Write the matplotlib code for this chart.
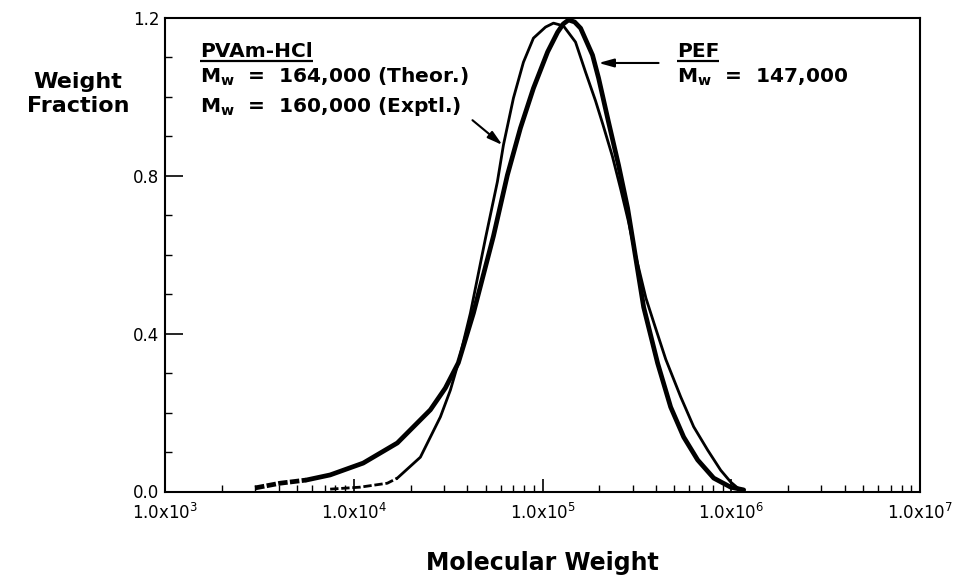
import matplotlib
matplotlib.use("Agg")
import matplotlib.pyplot as plt
from matplotlib.ticker import LogLocator, FixedLocator, FuncFormatter, MultipleLocator, NullFormatter
import numpy as np

plt.rcParams['font.family'] = ['DejaVu Sans']
plt.rcParams['mathtext.default'] = 'regular'

# PEF (thick curve): log10(molecular weight), weight fraction
pef_log_mw = [3.477, 3.610, 3.748, 3.875, 4.050, 4.231, 4.406, 4.485, 4.554, 4.634,
              4.740, 4.814, 4.883, 4.952, 5.027, 5.080, 5.110, 5.138, 5.170, 5.202,
              5.265, 5.297, 5.350, 5.403, 5.451, 5.483, 5.536, 5.610, 5.679, 5.748,
              5.822, 5.907, 5.997, 6.066]
pef_wf = [0.009, 0.021, 0.029, 0.042, 0.072, 0.123, 0.207, 0.262, 0.326, 0.452,
          0.647, 0.802, 0.921, 1.022, 1.114, 1.164, 1.185, 1.195, 1.190, 1.174,
          1.106, 1.048, 0.936, 0.827, 0.718, 0.624, 0.467, 0.325, 0.214, 0.138,
          0.080, 0.034, 0.011, 0.004]

# PVAm-HCl (thin curve)
pva_log_mw = [3.875, 4.034, 4.178, 4.231, 4.353, 4.459, 4.512, 4.554, 4.618, 4.698,
              4.761, 4.793, 4.846, 4.899, 4.952, 5.016, 5.058, 5.111, 5.175, 5.228,
              5.281, 5.320, 5.370, 5.415, 5.455, 5.490, 5.548, 5.595, 5.653, 5.732,
              5.801, 5.875, 5.944, 5.997, 6.034]
pva_wf = [0.006, 0.011, 0.021, 0.034, 0.087, 0.189, 0.257, 0.326, 0.452, 0.642,
          0.785, 0.878, 0.997, 1.088, 1.149, 1.177, 1.187, 1.180, 1.139, 1.063,
          0.990, 0.930, 0.850, 0.765, 0.685, 0.605, 0.490, 0.420, 0.335, 0.240,
          0.164, 0.105, 0.054, 0.024, 0.009]

x_ticks = [1e3, 1e4, 1e5, 1e6, 1e7]
y_ticks = [0.0, 0.4, 0.8, 1.2]

pef_mw = np.power(10.0, pef_log_mw)
pva_mw = np.power(10.0, pva_log_mw)

fig = plt.figure(figsize=(9.59, 5.77), dpi=100)
ax = fig.add_axes([165/959, 1-491.5/577, 755/959, 473.5/577])

n_dash_pef = 2
ax.plot(pef_mw[:n_dash_pef+1], pef_wf[:n_dash_pef+1], color='black', lw=3.4,
        linestyle=(0, (2, 0.5)), solid_capstyle='butt')
ax.plot(pef_mw[n_dash_pef:], pef_wf[n_dash_pef:], color='black', lw=3.4,
        solid_joinstyle='round', solid_capstyle='round')
n_dash_pva = 3
ax.plot(pva_mw[:n_dash_pva+1], pva_wf[:n_dash_pva+1], color='black', lw=2.0,
        linestyle=(0, (3, 1)))
ax.plot(pva_mw[n_dash_pva:], pva_wf[n_dash_pva:], color='black', lw=2.0,
        solid_joinstyle='round')

ax.set_xscale('log')
ax.set_xlim(1e3, 1e7)
ax.set_ylim(0, 1.2)

ax.xaxis.set_major_locator(FixedLocator(x_ticks))
ax.xaxis.set_minor_locator(LogLocator(base=10, subs=np.arange(2, 10)))
ax.xaxis.set_minor_formatter(NullFormatter())
ax.xaxis.set_major_formatter(FuncFormatter(lambda v, p: r'1.0x10$^{%d}$' % int(round(np.log10(v)))))
ax.yaxis.set_major_locator(FixedLocator(y_ticks))
ax.yaxis.set_minor_locator(MultipleLocator(0.1))
ax.yaxis.set_major_formatter(FuncFormatter(lambda v, p: '%.1f' % v))

ax.tick_params(axis='x', which='major', direction='in', length=9.5, width=1.2, labelsize=12, pad=8)
ax.tick_params(axis='x', which='minor', direction='in', length=5, width=1.0)
ax.tick_params(axis='y', which='major', direction='in', length=13, width=1.2, labelsize=12, pad=4)
ax.tick_params(axis='y', which='minor', direction='in', length=5, width=1.0)
for s in ax.spines.values():
    s.set_linewidth(1.5)

fig.text(78/959, 1-94/577, 'Weight\nFraction', ha='center', va='center',
         fontsize=16, fontweight='bold', linespacing=1.25)
fig.text(542/959, 1-563/577, 'Molecular Weight', ha='center', va='center',
         fontsize=17, fontweight='bold')

def axf(px, py):
    return ((px-165)/755, (491.5-py)/473.5)

fs = 14.5
t1 = ax.text(*axf(200, 57), 'PVAm-HCl', transform=ax.transAxes, fontsize=fs,
             fontweight='bold', ha='left', va='baseline')
ax.text(*axf(200, 83), r'M$_{w}$  =  164,000 (Theor.)', transform=ax.transAxes,
        fontsize=fs, fontweight='bold', ha='left', va='baseline')
ax.text(*axf(200, 112), r'M$_{w}$  =  160,000 (Exptl.)', transform=ax.transAxes,
        fontsize=fs, fontweight='bold', ha='left', va='baseline')
t2 = ax.text(*axf(677, 57), 'PEF', transform=ax.transAxes, fontsize=fs,
             fontweight='bold', ha='left', va='baseline')
ax.text(*axf(677, 83), r'M$_{w}$  =  147,000', transform=ax.transAxes,
        fontsize=fs, fontweight='bold', ha='left', va='baseline')

fig.canvas.draw()
r = fig.canvas.get_renderer()
inv = ax.transAxes.inverted()
for t in (t1, t2):
    bb = t.get_window_extent(r)
    (x0, _), (x1, _) = inv.transform([(bb.x0, 0), (bb.x1, 0)])
    yb = axf(0, 60.5)[1]
    ax.plot([x0, x1], [yb, yb], transform=ax.transAxes, color='black', lw=1.6,
            solid_capstyle='butt')

arrow_kw = dict(arrowstyle='-|>,head_length=0.9,head_width=0.25', color='black',
                lw=1.5, shrinkA=0, shrinkB=0)
ax.annotate('', xy=(10**5.297, 1.086), xytext=(10**5.615, 1.086), arrowprops=arrow_kw)
ax.annotate('', xy=(10**4.788, 0.878), xytext=(10**4.629, 0.941), arrowprops=arrow_kw)

fig.savefig('out.png', dpi=100)
